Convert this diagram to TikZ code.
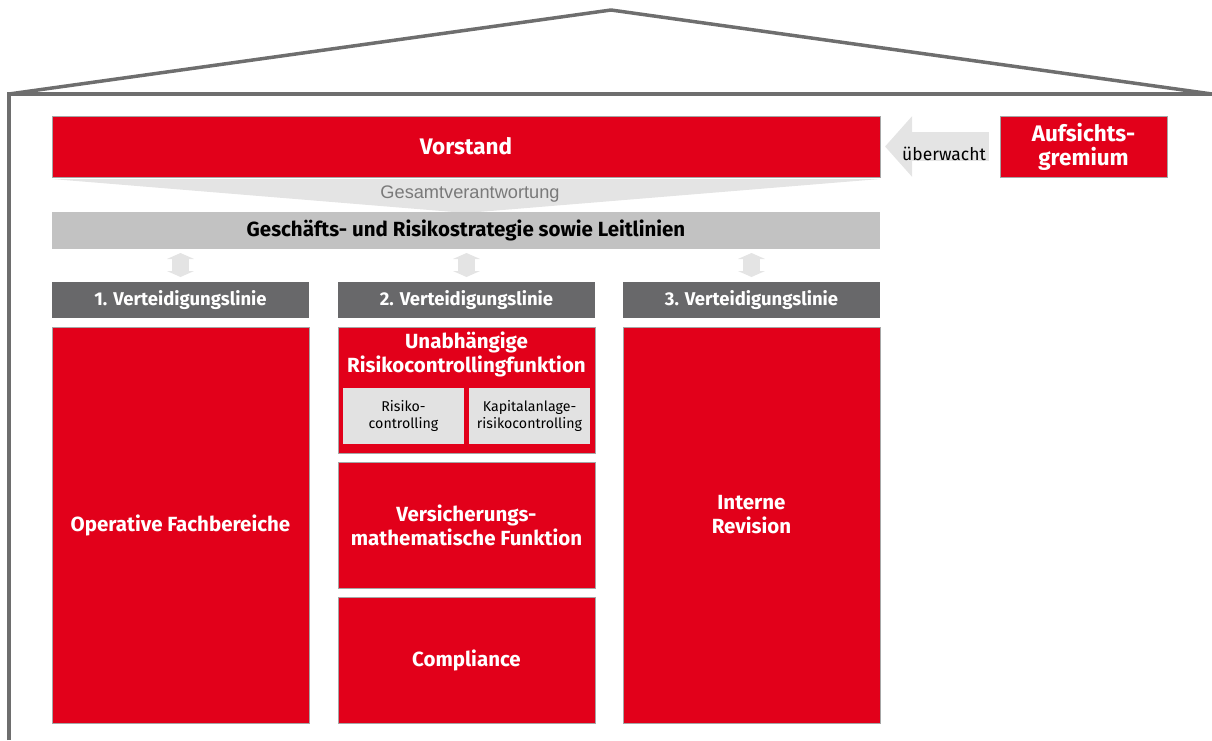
\documentclass[tikz,border=0pt]{standalone}
\usepackage{fontspec}
\setmainfont{Fira Sans}
\newfontfamily\arialfont{Liberation Sans}
\usetikzlibrary{positioning,arrows.meta}

\definecolor{dbred}{HTML}{E2001A}
\definecolor{roofgrey}{HTML}{6E6E6E}
\definecolor{headgrey}{HTML}{68686A}
\definecolor{stratgrey}{HTML}{C2C2C2}
\definecolor{subgrey}{HTML}{E2E2E2}
\definecolor{lightgrey}{HTML}{E4E4E4}

\begin{document}
\begin{tikzpicture}[x=1pt,y=-1pt,
  redbox/.style={draw=gray!70,line width=0.6pt,fill=dbred,text=white,font=\bfseries\fontsize{20.5}{24}\selectfont,align=center,inner sep=0pt,outer sep=0pt,minimum width=257pt},
  headbar/.style={fill=headgrey,text=white,font=\bfseries\fontsize{18.5}{19}\selectfont,minimum width=257pt,minimum height=36pt,inner sep=0pt,outer sep=0pt},
  subbox/.style={fill=subgrey,text=black,font=\fontsize{14.2}{17}\selectfont,align=center,minimum width=121pt,minimum height=56pt,inner sep=0pt,outer sep=0pt},
  updown/.style={draw=lightgrey,line width=17pt,{Triangle[width=27pt,length=6pt]}-{Triangle[width=27pt,length=6pt]},shorten <=4pt,shorten >=5pt},
  ]
\useasboundingbox (0,0) rectangle (1212,740);

% haus
\draw[roofgrey,line width=3.5pt] (9,740) -- (9,94) -- (1212,94);
\draw[roofgrey,line width=3.5pt,line join=round] (9,94) -- (611,10) -- (1212,94);

% leitung
\node[redbox,anchor=north west,minimum width=828pt,minimum height=61pt,font=\bfseries\fontsize{22.5}{24}\selectfont] (vorstand) at (52,116) {Vorstand};
\node[redbox,anchor=north west,minimum width=167pt,minimum height=61pt,font=\bfseries\fontsize{22.5}{24}\selectfont] (aufsicht) at (1000,116) {Aufsichts-\\gremium};
\draw[lightgrey,line width=29pt,-{Triangle[width=59pt,length=27pt]},shorten <=11pt,shorten >=5pt] (aufsicht.west) -- (vorstand.east);
\node[font=\fontsize{17.5}{18}\selectfont,inner sep=0pt] (ueber) at (944,154) {überwacht};

\fill[lightgrey] ([yshift=-2pt]vorstand.south west) -- ([yshift=-2pt]vorstand.south east) -- (466,213) -- cycle;
\node[font=\arialfont\fontsize{18.2}{20}\selectfont,text=gray!95!black,inner sep=0pt] (gesamt) at (470,194) {Gesamtverantwortung};

\node[anchor=north west,fill=stratgrey,minimum width=828pt,minimum height=37pt,inner sep=0pt,outer sep=0pt,font=\bfseries\fontsize{20.5}{21}\selectfont] (strat) at (52,212) {Geschäfts- und Risikostrategie sowie Leitlinien};

% verteidigungslinien
\node[headbar,anchor=north west] (h1) at (52,282) {1. Verteidigungslinie};
\node[headbar,anchor=north west] (h2) at (338,282) {2. Verteidigungslinie};
\node[headbar,anchor=north west] (h3) at (623,282) {3. Verteidigungslinie};

\draw[updown] (h1.north |- strat.south) -- (h1.north);
\draw[updown] (h2.north |- strat.south) -- (h2.north);
\draw[updown] (h3.north |- strat.south) -- (h3.north);

\node[redbox,minimum height=396pt,below=9pt of h1] (ops) {Operative Fachbereiche};
\node[redbox,minimum height=396pt,below=9pt of h3] (rev) {};
\node[font=\bfseries\fontsize{20.5}{24}\selectfont,text=white,align=center,yshift=10pt] (revtext) at (rev.center) {Interne\\Revision};

\node[redbox,minimum height=126pt,below=9pt of h2] (urc) {};
\node[font=\bfseries\fontsize{20.5}{24}\selectfont,text=white,align=center,inner sep=0pt,below=5pt of urc.north] (urctitle) {Unabhängige\\Risikocontrollingfunktion};
\node[subbox,anchor=north west] (rc) at (343,388) {Risiko-\\controlling};
\node[subbox,anchor=north west] (krc) at (469,388) {Kapitalanlage-\\risikocontrolling};
\node[redbox,minimum height=126pt,below=9pt of urc] (vmf) {Versicherungs-\\mathematische Funktion};
\node[redbox,minimum height=126pt,below=9pt of vmf] (comp) {Compliance};

\end{tikzpicture}
\end{document}
